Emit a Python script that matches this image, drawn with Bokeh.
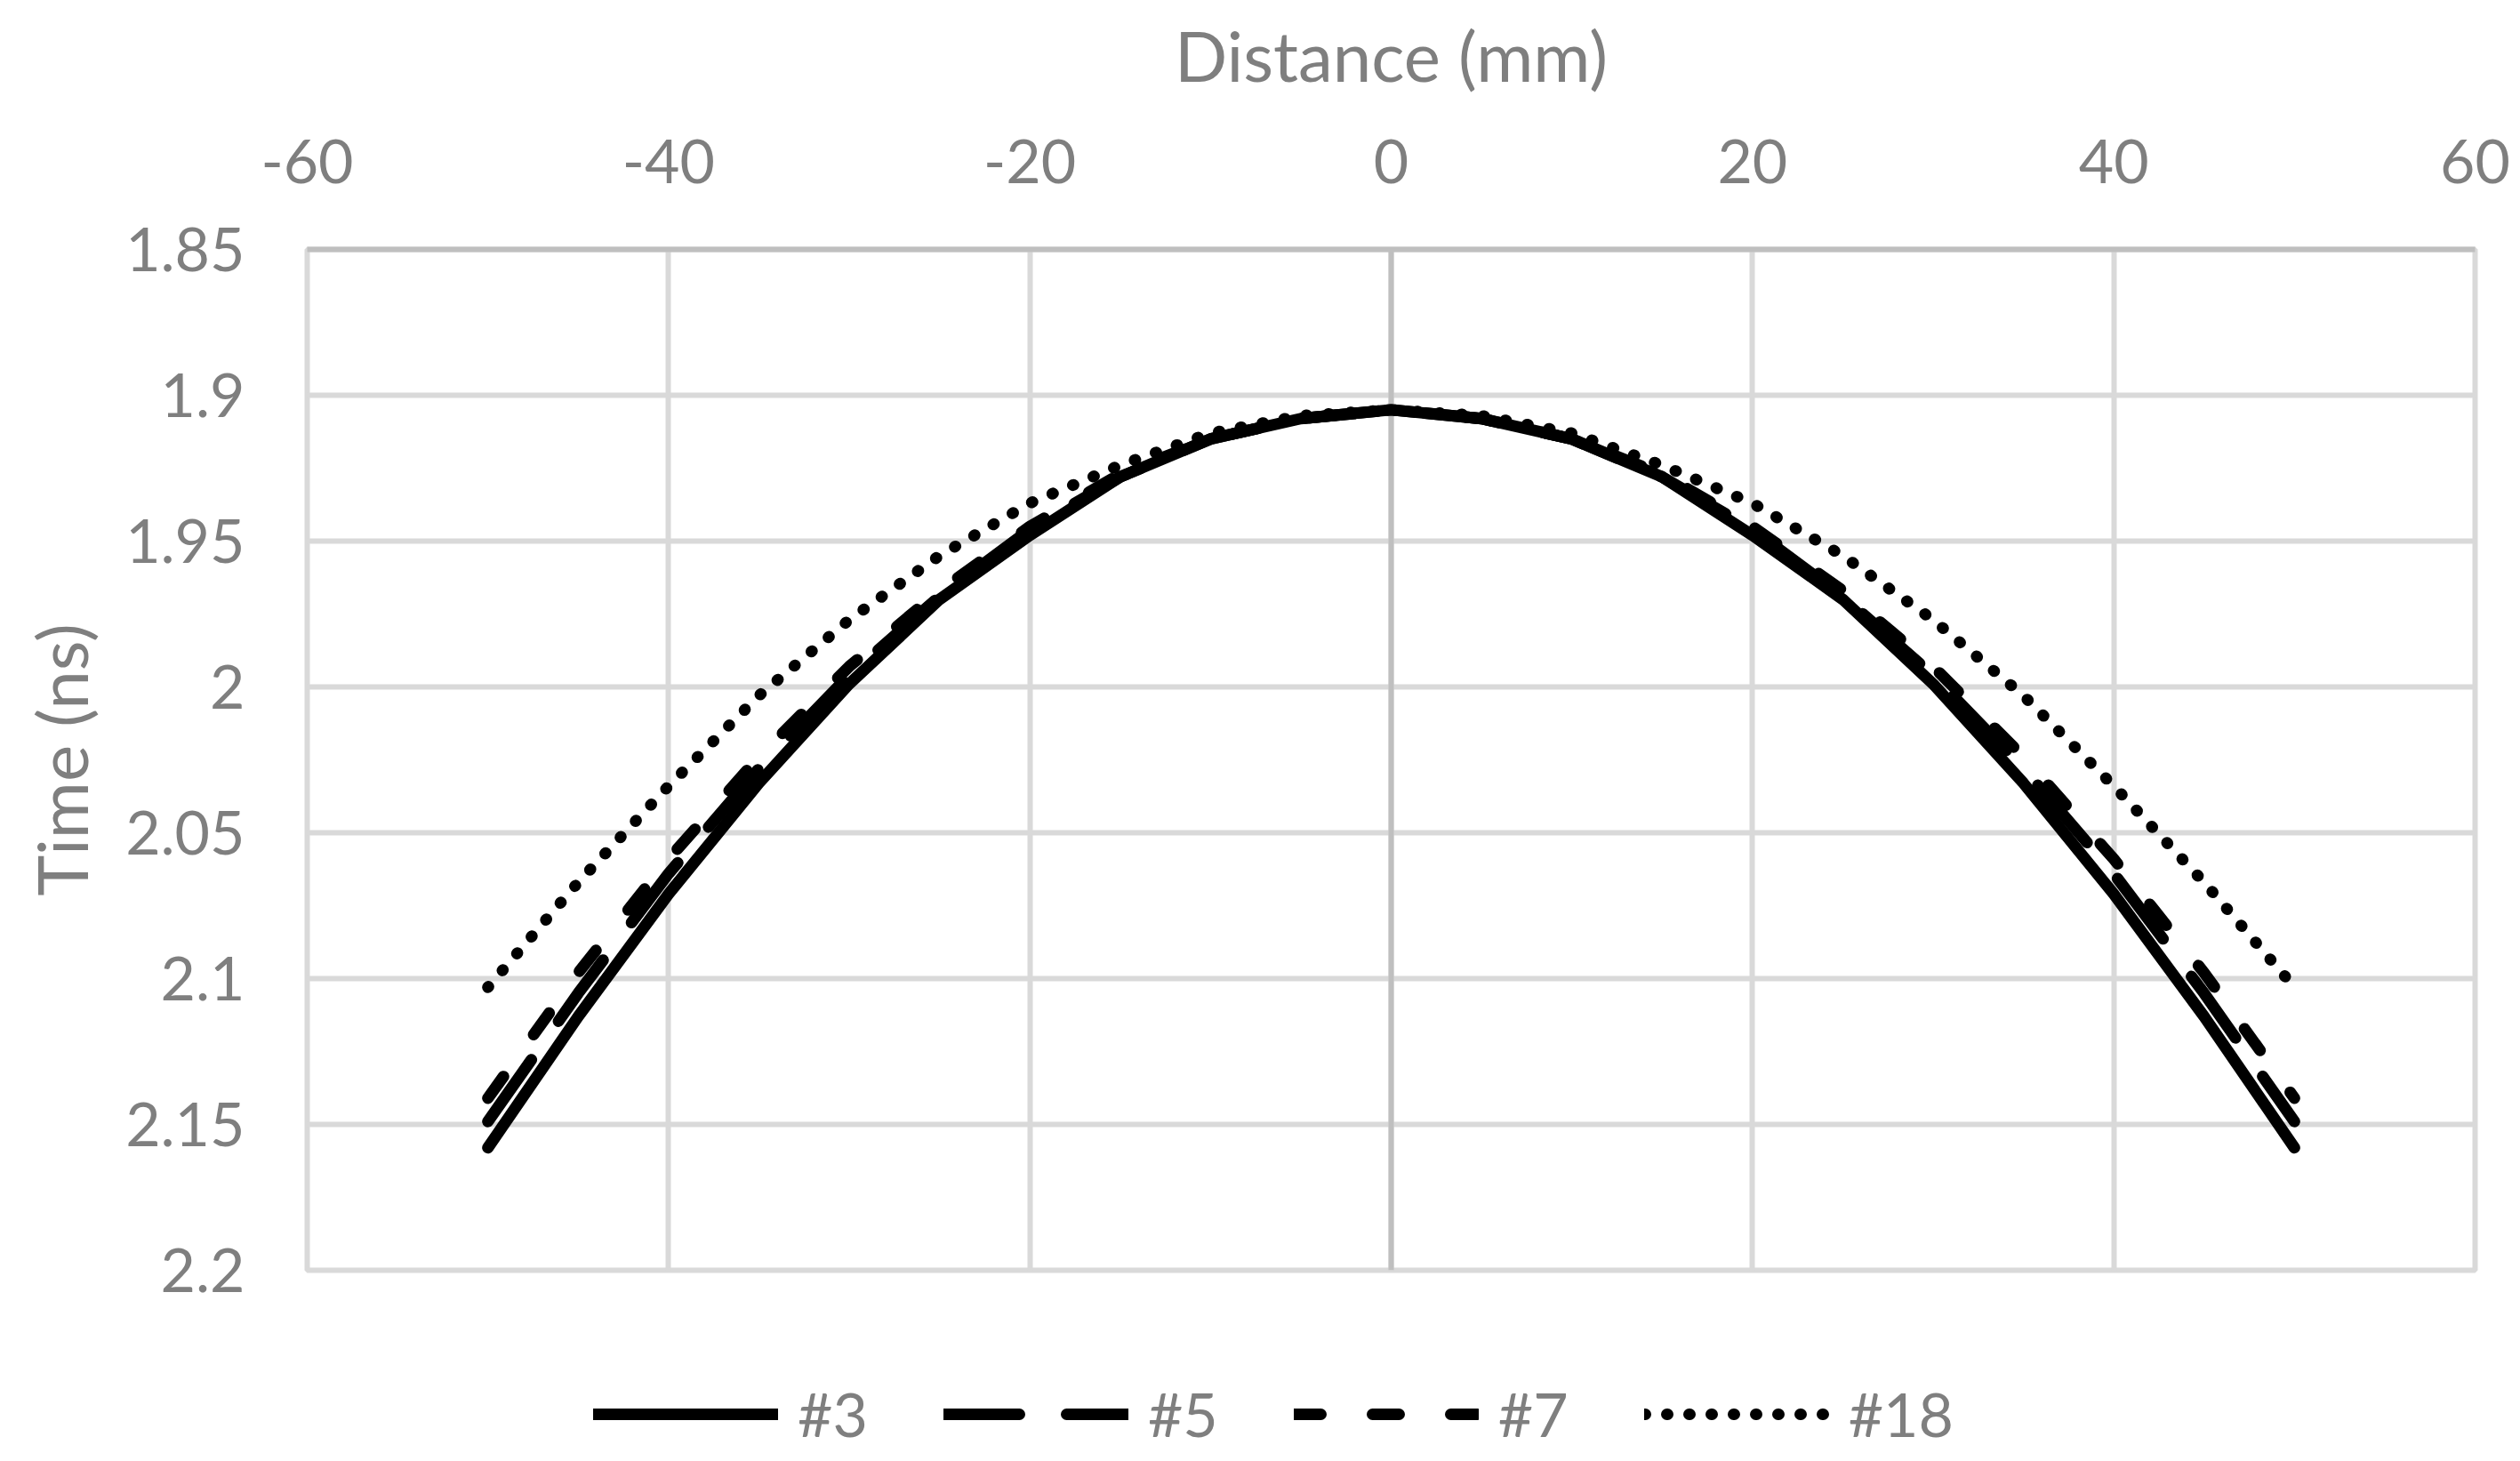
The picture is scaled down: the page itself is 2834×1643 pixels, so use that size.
from bokeh.plotting import figure
from bokeh.layouts import column
from bokeh.models import Range1d, FixedTicker, Span, Legend, LegendItem
from bokeh.embed import file_html
from bokeh.resources import INLINE

# ---- data ----
distance = [-50, -45, -40, -35, -30, -25, -20, -15, -10, -5, 0,
            5, 10, 15, 20, 25, 30, 35, 40, 45, 50]
t3 = [2.158, 2.113, 2.071, 2.033, 1.999, 1.970, 1.948, 1.928, 1.915, 1.908, 1.905,
      1.908, 1.915, 1.928, 1.948, 1.970, 1.999, 2.033, 2.071, 2.113, 2.158]
t5 = [2.149, 2.105, 2.064, 2.028, 1.996, 1.969, 1.946, 1.928, 1.915, 1.908, 1.905,
      1.908, 1.915, 1.928, 1.946, 1.969, 1.996, 2.028, 2.064, 2.105, 2.149]
t7 = [2.141, 2.098, 2.059, 2.024, 1.993, 1.967, 1.945, 1.927, 1.915, 1.908, 1.905,
      1.908, 1.915, 1.927, 1.945, 1.967, 1.993, 2.024, 2.059, 2.098, 2.141]
t18 = [2.103, 2.067, 2.034, 2.003, 1.977, 1.955, 1.937, 1.924, 1.913, 1.907, 1.905,
       1.907, 1.913, 1.924, 1.937, 1.955, 1.977, 2.003, 2.034, 2.067, 2.103]
series = [t3, t5, t7, t18]
series_names = ["#3", "#5", "#7", "#18"]
x_ticks = [-60, -40, -20, 0, 20, 40, 60]
x_tick_labels = ["-60", "-40", "-20", "0", "20", "40", "60"]
y_ticks = [1.85, 1.9, 1.95, 2.0, 2.05, 2.1, 2.15, 2.2]
y_tick_labels = ["1.85", "1.9", "1.95", "2", "2.05", "2.1", "2.15", "2.2"]
x_title = "Distance (mm)"
y_title = "Time (ns)"

FONT = "Lato"
GRAY = "#7F7F7F"
GRID = "#D9D9D9"
AXIS = "#BFBFBF"
LW = 13
styles = [None, "85 53", "30 58", "1 24"]

W = 2834
H1 = 1480
H2 = 1643 - H1


def line_style(dash):
    kw = dict(line_color="black", line_width=LW, line_cap="round", line_join="round")
    if dash:
        kw["line_dash"] = dash
    return kw


p = figure(width=W, height=H1, output_backend="svg", toolbar_location=None,
           x_range=Range1d(-60, 60), y_range=Range1d(2.2, 1.85),
           x_axis_location="above",
           min_border_left=345, min_border_right=51,
           min_border_top=280, min_border_bottom=H1 - 1428)
p.outline_line_color = GRID
p.outline_line_width = 6

# x axis (top)
xa = p.xaxis[0]
xa.ticker = FixedTicker(ticks=x_ticks)
xa.major_label_overrides = {t: l for t, l in zip(x_ticks, x_tick_labels)}
xa.axis_line_color = AXIS
xa.axis_line_width = 6
xa.major_tick_line_color = None
xa.minor_tick_line_color = None
xa.major_label_text_font = FONT
xa.major_label_text_font_size = "68px"
xa.major_label_text_color = GRAY
xa.major_label_standoff = 69
xa.axis_label = x_title
xa.axis_label_text_font = FONT
xa.axis_label_text_font_size = "78px"
xa.axis_label_text_font_style = "normal"
xa.axis_label_text_color = GRAY
xa.axis_label_standoff = 45

# y axis (left)
ya = p.yaxis[0]
ya.ticker = FixedTicker(ticks=y_ticks)
ya.major_label_overrides = {t: l for t, l in zip(y_ticks, y_tick_labels)}
ya.axis_line_color = None
ya.major_tick_line_color = None
ya.minor_tick_line_color = None
ya.major_label_text_font = FONT
ya.major_label_text_font_size = "68px"
ya.major_label_text_color = GRAY
ya.major_label_standoff = 64
ya.axis_label = y_title
ya.axis_label_text_font = FONT
ya.axis_label_text_font_size = "78px"
ya.axis_label_text_font_style = "normal"
ya.axis_label_text_color = GRAY
ya.axis_label_standoff = 22

p.xgrid.ticker = FixedTicker(ticks=x_ticks)
p.ygrid.ticker = FixedTicker(ticks=y_ticks)
for g in (p.xgrid[0], p.ygrid[0]):
    g.grid_line_color = GRID
    g.grid_line_width = 6

p.add_layout(Span(location=0, dimension="height", line_color=AXIS,
                  line_width=6, level="underlay"))

for ys, dash in zip(series, styles):
    p.line(distance, ys, **line_style(dash))

# ---- legend strip below the chart (its own lines fall outside its view) ----
q = figure(width=W, height=H2, output_backend="svg", toolbar_location=None,
           x_axis_location=None, y_axis_location=None,
           min_border_left=0, min_border_right=0, min_border_top=0, min_border_bottom=0,
           x_range=Range1d(0, 1), y_range=Range1d(0, 1))
q.outline_line_color = None
q.grid.visible = False
leg_renderers = [q.line(distance, ys, **line_style(dash)) for ys, dash in zip(series, styles)]

legend = Legend(items=[LegendItem(label=n, renderers=[r]) for n, r in
                       zip(series_names, leg_renderers)],
                orientation="horizontal", location=(322, 13),
                glyph_width=208, glyph_height=80, label_height=80,
                label_standoff=22, spacing=85, padding=0, margin=0,
                border_line_color=None, background_fill_alpha=0,
                label_text_font=FONT, label_text_font_size="68px",
                label_text_color=GRAY)
q.add_layout(legend, "center")

layout = column(p, q, spacing=0)
open("out.html", "w").write(file_html(layout, INLINE))
